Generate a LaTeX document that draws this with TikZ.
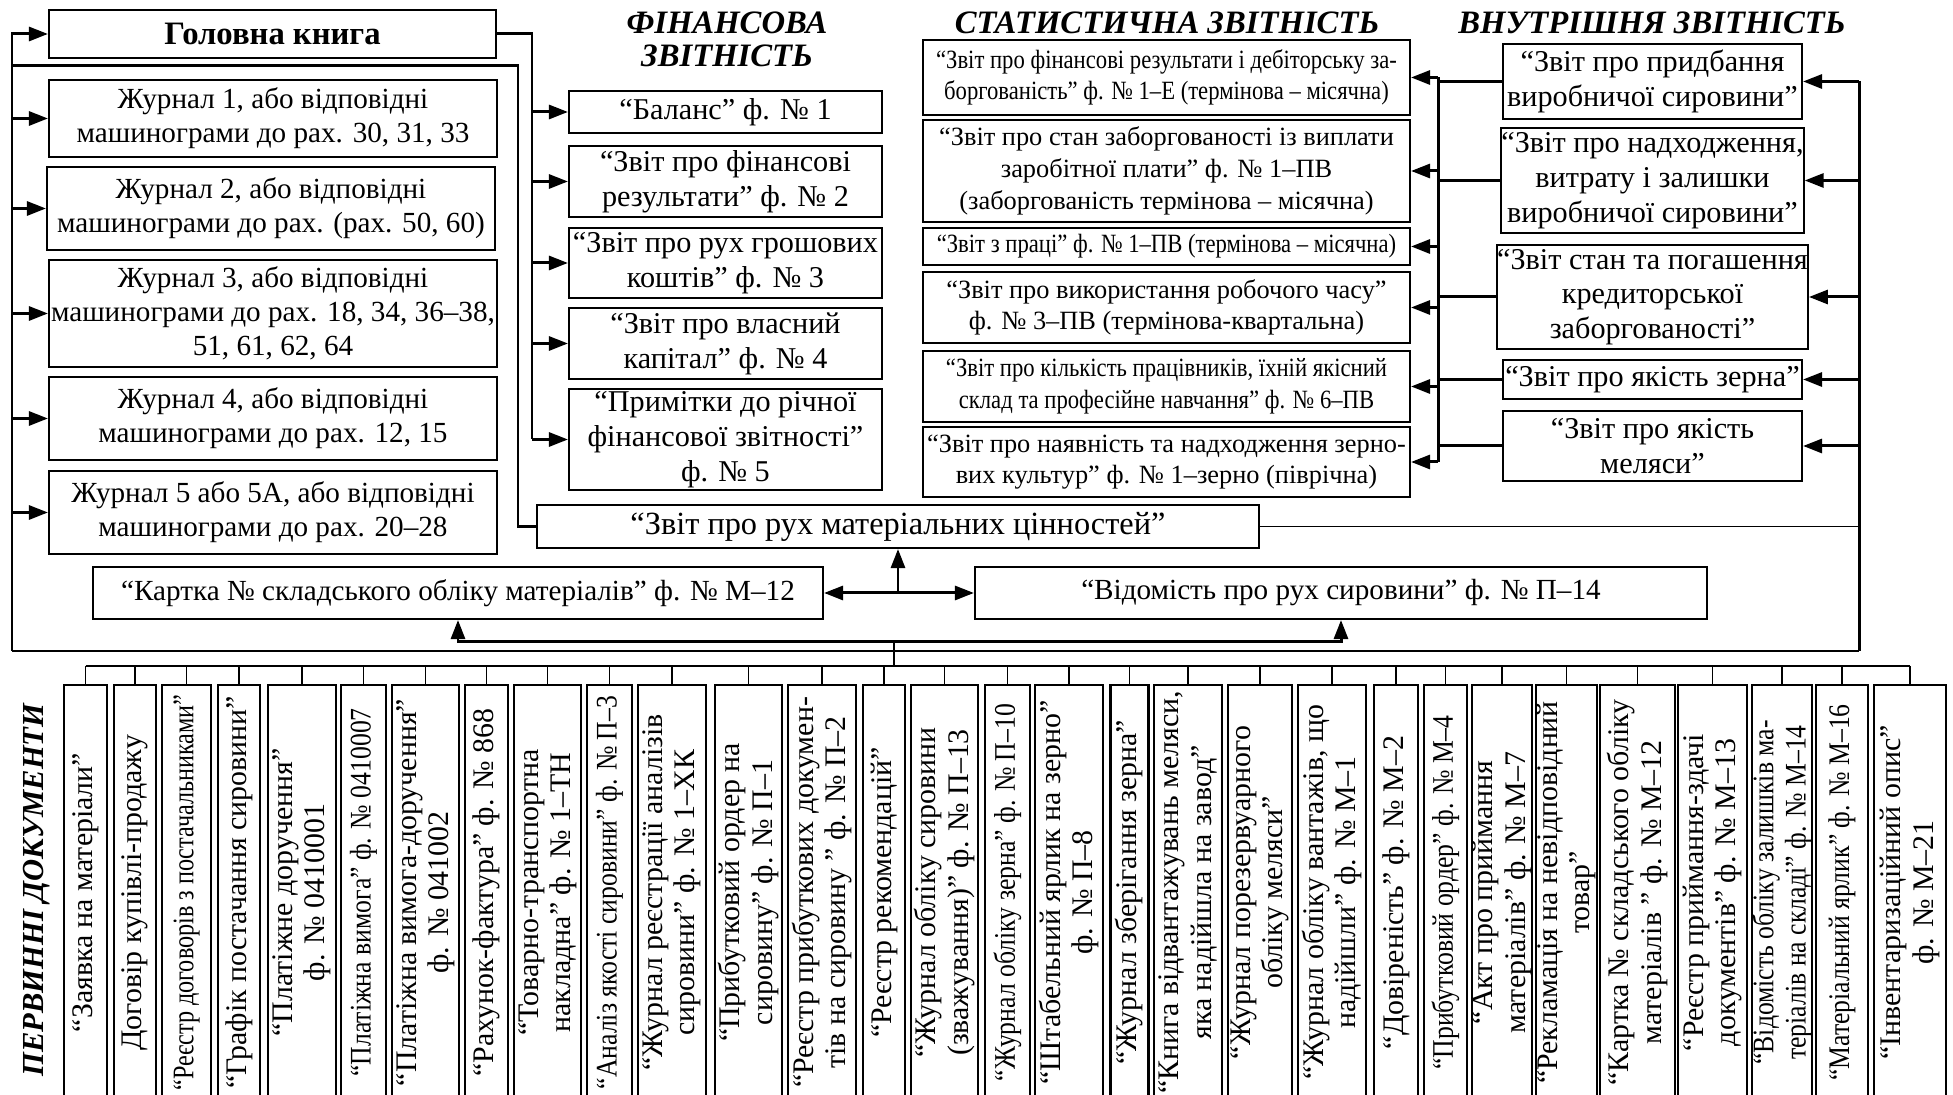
\documentclass[tikz,border=0pt]{standalone}
\usepackage{fontspec}
\setmainfont{Liberation Serif}
\newfontfamily\condfont[FakeStretch=0.86]{Liberation Serif}
\newfontfamily\narrowfont[FakeStretch=0.81]{Liberation Serif}
\usepackage{tikz}
\usetikzlibrary{arrows.meta}

\tikzset{
	blk/.style={draw, line width=0.6pt, shape=rectangle, inner sep=0, align=center, font=\fontsize{8.3}{9.6}\selectfont},
	statblk/.style={blk, font=\fontsize{7.5}{9}\selectfont},
	cond/.style={font=\condfont\fontsize{7.5}{9}\selectfont},
	doc/.style={blk, rotate=90, minimum width=4.15cm, font=\fontsize{8.5}{9.2}\selectfont},
	dcond/.style={font=\condfont\fontsize{8.5}{9.2}\selectfont},
	dnarrow/.style={font=\narrowfont\fontsize{8.5}{9.2}\selectfont},
	hdr/.style={inner sep=0, align=center, font=\fontsize{9.3}{11}\selectfont\bfseries\itshape},
	wire/.style={line width=0.85pt},
	thinwire/.style={line width=0.5pt},
	arr/.style={-{Triangle[length=1.9mm,width=1.4mm]}},
	darr/.style={{Triangle[length=1.9mm,width=1.4mm]}-{Triangle[length=1.9mm,width=1.4mm]}}
}

\begin{document}
\begin{tikzpicture}
	\useasboundingbox (0,0) rectangle (19.53,-10.95);
	% Headers:
	\node[hdr] (HdrFin1) at (7.27,-0.23) {ФІНАНСОВА};
	\node[hdr] (HdrFin2) at (7.27,-0.56) {ЗВІТНІСТЬ};
	\node[hdr] (HdrStat) at (11.67,-0.23) {СТАТИСТИЧНА ЗВІТНІСТЬ};
	\node[hdr] (HdrInt) at (16.52,-0.23) {ВНУТРІШНЯ ЗВІТНІСТЬ};
	\node[hdr, rotate=90, font=\fontsize{8.7}{10}\selectfont\bfseries\itshape] (HdrDocs) at (0.37,-8.90) {ПЕРВИННІ ДОКУМЕНТИ};
	% Ledger and journals:
	\node[blk, minimum width=4.47cm, minimum height=0.48cm, font=\fontsize{9.3}{11}\selectfont\bfseries] (Book) at (2.725,-0.34) {Головна книга};
	\node[blk, minimum width=4.48cm, minimum height=0.77cm] (J1) at (2.73,-1.185) {Журнал 1, або відповідні\\машинограми до рах. 30, 31, 33};
	\node[blk, minimum width=4.48cm, minimum height=0.83cm] (J2) at (2.71,-2.085) {Журнал 2,  або відповідні\\машинограми до рах. (рах. 50, 60)};
	\node[blk, minimum width=4.48cm, minimum height=1.07cm] (J3) at (2.73,-3.135) {Журнал 3, або відповідні\\машинограми до рах. 18, 34, 36–38,\\51, 61, 62, 64};
	\node[blk, minimum width=4.48cm, minimum height=0.83cm] (J4) at (2.73,-4.185) {Журнал 4, або відповідні\\машинограми до рах. 12, 15};
	\node[blk, minimum width=4.48cm, minimum height=0.83cm] (J5) at (2.73,-5.125) {Журнал 5 або 5А, або відповідні\\машинограми до рах. 20–28};
	% Financial statements:
	\node[blk, minimum width=3.13cm, minimum height=0.42cm, font=\fontsize{8.6}{9.9}\selectfont] (F1) at (7.255,-1.12) {“Баланс” ф. № 1};
	\node[blk, minimum width=3.13cm, minimum height=0.71cm, font=\fontsize{8.6}{9.9}\selectfont] (F2) at (7.255,-1.815) {“Звіт про фінансові\\результати” ф. № 2};
	\node[blk, minimum width=3.13cm, minimum height=0.70cm, font=\fontsize{8.6}{9.9}\selectfont] (F3) at (7.255,-2.63) {“Звіт про рух грошових\\коштів” ф. № 3};
	\node[blk, minimum width=3.13cm, minimum height=0.71cm, font=\fontsize{8.6}{9.9}\selectfont] (F4) at (7.255,-3.435) {“Звіт про власний\\капітал” ф. № 4};
	\node[blk, minimum width=3.13cm, minimum height=1.01cm, font=\fontsize{8.6}{9.9}\selectfont] (F5) at (7.255,-4.395) {“Примітки до річної\\фінансової звітності”\\ф. № 5};
	% Statistical statements:
	\node[statblk, cond, minimum width=4.87cm, minimum height=0.75cm] (S1) at (11.665,-0.775) {“Звіт про фінансові результати і дебіторську за-\\боргованість” ф.  № 1–Е (термінова – місячна)};
	\node[statblk, minimum width=4.87cm, minimum height=1.02cm] (S2) at (11.665,-1.71) {“Звіт про стан заборгованості із виплати\\заробітної плати” ф. № 1–ПВ\\(заборгованість термінова – місячна)};
	\node[statblk, cond, minimum width=4.87cm, minimum height=0.37cm] (S3) at (11.665,-2.465) {“Звіт з праці” ф. № 1–ПВ (термінова – місячна)};
	\node[statblk, minimum width=4.87cm, minimum height=0.71cm] (S4) at (11.665,-3.075) {“Звіт про використання робочого часу”\\ф. № 3–ПВ (термінова-квартальна)};
	\node[statblk, cond, minimum width=4.87cm, minimum height=0.71cm] (S5) at (11.665,-3.865) {“Звіт про кількість працівників, їхній якісний\\склад та професійне навчання” ф. № 6–ПВ};
	\node[statblk, minimum width=4.87cm, minimum height=0.70cm] (S6) at (11.665,-4.62) {“Звіт про наявність та надходження зерно-\\вих культур” ф. № 1–зерно (піврічна)};
	% Internal statements:
	\node[blk, minimum width=2.99cm, minimum height=0.75cm, font=\fontsize{8.6}{9.9}\selectfont] (I1) at (16.525,-0.815) {“Звіт про придбання\\виробничої сировини”};
	\node[blk, minimum width=2.99cm, minimum height=1.05cm, font=\fontsize{8.6}{9.9}\selectfont] (I2) at (16.525,-1.805) {“Звіт про надходження,\\витрату і залишки\\виробничої сировини”};
	\node[blk, minimum width=2.99cm, minimum height=1.04cm, font=\fontsize{8.6}{9.9}\selectfont] (I3) at (16.525,-2.97) {“Звіт стан та погашення\\кредиторської\\заборгованості”};
	\node[blk, minimum width=2.99cm, minimum height=0.39cm, font=\fontsize{8.6}{9.9}\selectfont] (I4) at (16.525,-3.795) {“Звіт про якість зерна”};
	\node[blk, minimum width=2.99cm, minimum height=0.70cm, font=\fontsize{8.6}{9.9}\selectfont] (I5) at (16.525,-4.46) {“Звіт про якість\\меляси”};
	% Material flow:
	\node[blk, minimum width=7.22cm, minimum height=0.43cm, font=\fontsize{9.2}{10}\selectfont] (Rmc) at (8.98,-5.265) {“Звіт про рух матеріальних цінностей”};
	\node[blk, minimum width=7.30cm, minimum height=0.52cm] (Kartka) at (4.58,-5.93) {“Картка № складського обліку матеріалів” ф. № М–12};
	\node[blk, minimum width=7.32cm, minimum height=0.52cm] (Vidom) at (13.41,-5.93) {“Відомість про рух сировини” ф. № П–14};
	% Primary documents:
	\node[doc, minimum height=0.43cm] (D1) at (0.855,-8.925) {“Заявка на матеріали”};
	\node[doc, minimum height=0.42cm] (D2) at (1.35,-8.925) {Договір купівлі-продажу};
	\node[doc, dnarrow, minimum height=0.49cm] (D3) at (1.865,-8.925) {“Реєстр договорів з постачальниками”};
	\node[doc, minimum height=0.42cm] (D4) at (2.39,-8.925) {“Графік постачання сировини”};
	\node[doc, minimum height=0.68cm] (D5) at (3.02,-8.925) {“Платіжне доручення”\\ф. № 0410001};
	\node[doc, dcond, minimum height=0.45cm] (D6) at (3.635,-8.925) {“Платіжна вимога” ф. № 0410007};
	\node[doc, minimum height=0.67cm] (D7) at (4.255,-8.925) {“Платіжна вимога-доручення”\\ф. № 041002};
	\node[doc, minimum height=0.43cm] (D8) at (4.865,-8.925) {“Рахунок-фактура” ф. № 868};
	\node[doc, minimum height=0.67cm] (D9) at (5.475,-8.925) {“Товарно-транспортна\\накладна” ф. № 1–ТН};
	\node[doc, dcond, minimum height=0.45cm] (D10) at (6.095,-8.925) {“Аналіз якості сировини” ф. № П–3};
	\node[doc, minimum height=0.68cm] (D11) at (6.72,-8.925) {“Журнал реєстрації аналізів\\сировини” ф. № 1–ХК};
	\node[doc, minimum height=0.67cm] (D12) at (7.485,-8.925) {“Прибутковий ордер на\\сировину” ф. № П–1};
	\node[doc, minimum height=0.68cm] (D13) at (8.22,-8.925) {“Реєстр прибуткових докумен-\\тів на сировину ” ф. № П–2};
	\node[doc, minimum height=0.42cm] (D14) at (8.84,-8.925) {“Реєстр рекомендацій”};
	\node[doc, minimum height=0.67cm] (D15) at (9.445,-8.925) {“Журнал обліку сировини\\(зважування)” ф. № П–13};
	\node[doc, dcond, minimum height=0.45cm] (D16) at (10.075,-8.925) {“Журнал обліку зерна” ф. № П–10};
	\node[doc, minimum height=0.68cm] (D17) at (10.69,-8.925) {“Штабельний ярлик на зерно”\\ф. № П–8};
	\node[doc, minimum height=0.38cm] (D18) at (11.295,-8.925) {“Журнал зберігання зерна”};
	\node[doc, minimum height=0.68cm] (D19) at (11.88,-8.925) {“Книга відвантажувань меляси,\\яка надійшла на завод”};
	\node[doc, minimum height=0.64cm] (D20) at (12.60,-8.925) {“Журнал порезервуарного\\обліку меляси”};
	\node[doc, minimum height=0.68cm] (D21) at (13.32,-8.925) {“Журнал обліку вантажів, що\\надійшли” ф. № М–1};
	\node[doc, minimum height=0.44cm] (D22) at (13.96,-8.925) {“Довіреність” ф. № М–2};
	\node[doc, dcond, minimum height=0.43cm] (D23) at (14.455,-8.925) {“Прибутковий ордер” ф. № М–4};
	\node[doc, minimum height=0.60cm] (D24) at (15.02,-8.925) {“Акт про приймання\\матеріалів” ф. № М–7};
	\node[doc, minimum height=0.61cm] (D25) at (15.665,-8.925) {“Рекламація на невідповідний\\товар”};
	\node[doc, minimum height=0.75cm] (D26) at (16.375,-8.925) {“Картка № складського обліку\\матеріалів ” ф. № М–12};
	\node[doc, minimum height=0.69cm] (D27) at (17.125,-8.925) {“Реєстр приймання-здачі\\документів” ф. № М–13};
	\node[doc, dcond, minimum height=0.60cm] (D28) at (17.82,-8.925) {“Відомість обліку залишків ма-\\теріалів на складі” ф. № М–14};
	\node[doc, dcond, minimum height=0.52cm] (D29) at (18.42,-8.925) {“Матеріальний ярлик” ф. № М–16};
	\node[doc, minimum height=0.72cm] (D30) at (19.10,-8.925) {“Інвентаризаційний опис”\\ф. № М–21};
	% Bus points:
	\coordinate (LoopL) at (0.12,-6.51);
	\coordinate (LoopR) at (18.59,-6.51);
	\coordinate (Feed) at (5.18,-0.66);
	\coordinate (FinBus) at (5.32,-0.34);
	\coordinate (StatBus) at (14.38,-0.77);
	\coordinate (Split) at (8.94,-6.42);
	\coordinate (Rail) at (0.85,-6.66);
	% Wires:
	\draw[wire, arr] (LoopL) |- (Book.west);
	\draw[wire, arr] (LoopL |- J1.west) -- (J1.west);
	\draw[wire, arr] (LoopL |- J2.west) -- (J2.west);
	\draw[wire, arr] (LoopL |- J3.west) -- (J3.west);
	\draw[wire, arr] (LoopL |- J4.west) -- (J4.west);
	\draw[wire, arr] (LoopL |- J5.west) -- (J5.west);
	\draw[wire] (LoopL |- Feed) -- (Feed) |- (Rmc.west);
	\draw[wire] (Book.east) -- (FinBus |- Book.east) -- (FinBus |- F5.west);
	\draw[wire, arr] (FinBus |- F1.west) -- (F1.west);
	\draw[wire, arr] (FinBus |- F2.west) -- (F2.west);
	\draw[wire, arr] (FinBus |- F3.west) -- (F3.west);
	\draw[wire, arr] (FinBus |- F4.west) -- (F4.west);
	\draw[wire, arr] (FinBus |- F5.west) -- (F5.west);
	\draw[wire] (StatBus |- S1.east) -- (StatBus |- S6.east);
	\draw[wire, arr] (StatBus |- S1.east) -- (S1.east);
	\draw[wire, arr] (StatBus |- S2.east) -- (S2.east);
	\draw[wire, arr] (StatBus |- S3.east) -- (S3.east);
	\draw[wire, arr] (StatBus |- S4.east) -- (S4.east);
	\draw[wire, arr] (StatBus |- S5.east) -- (S5.east);
	\draw[wire, arr] (StatBus |- S6.east) -- (S6.east);
	\draw[wire] (I1.west) -- (StatBus |- I1.west);
	\draw[wire] (I2.west) -- (StatBus |- I2.west);
	\draw[wire] (I3.west) -- (StatBus |- I3.west);
	\draw[wire] (I4.west) -- (StatBus |- I4.west);
	\draw[wire] (I5.west) -- (StatBus |- I5.west);
	\draw[wire] (LoopR) -- (LoopR |- I1.east);
	\draw[wire, arr] (LoopR |- I1.east) -- (I1.east);
	\draw[wire, arr] (LoopR |- I2.east) -- (I2.east);
	\draw[wire, arr] (LoopR |- I3.east) -- (I3.east);
	\draw[wire, arr] (LoopR |- I4.east) -- (I4.east);
	\draw[wire, arr] (LoopR |- I5.east) -- (I5.east);
	\draw[thinwire] (Rmc.east) -- (LoopR |- Rmc.east);
	\draw[thinwire] (LoopL) -- (LoopR);
	\draw[wire, darr] (Kartka.east) -- (Vidom.west);
	\draw[wire, arr] (Rmc.south |- Kartka.east) -- (Rmc.south);
	\draw[wire, arr] (Split) -| (Kartka.south);
	\draw[wire, arr] (Split) -| (Vidom.south);
	\draw[thinwire] (Split) -- (Split |- Rail);
	\draw[thinwire] (D1.east |- Rail) -- (D30.east |- Rail);
	\foreach \k in {1,...,30} \draw[thinwire] (D\k.east |- Rail) -- (D\k.east);
\end{tikzpicture}
\end{document}
